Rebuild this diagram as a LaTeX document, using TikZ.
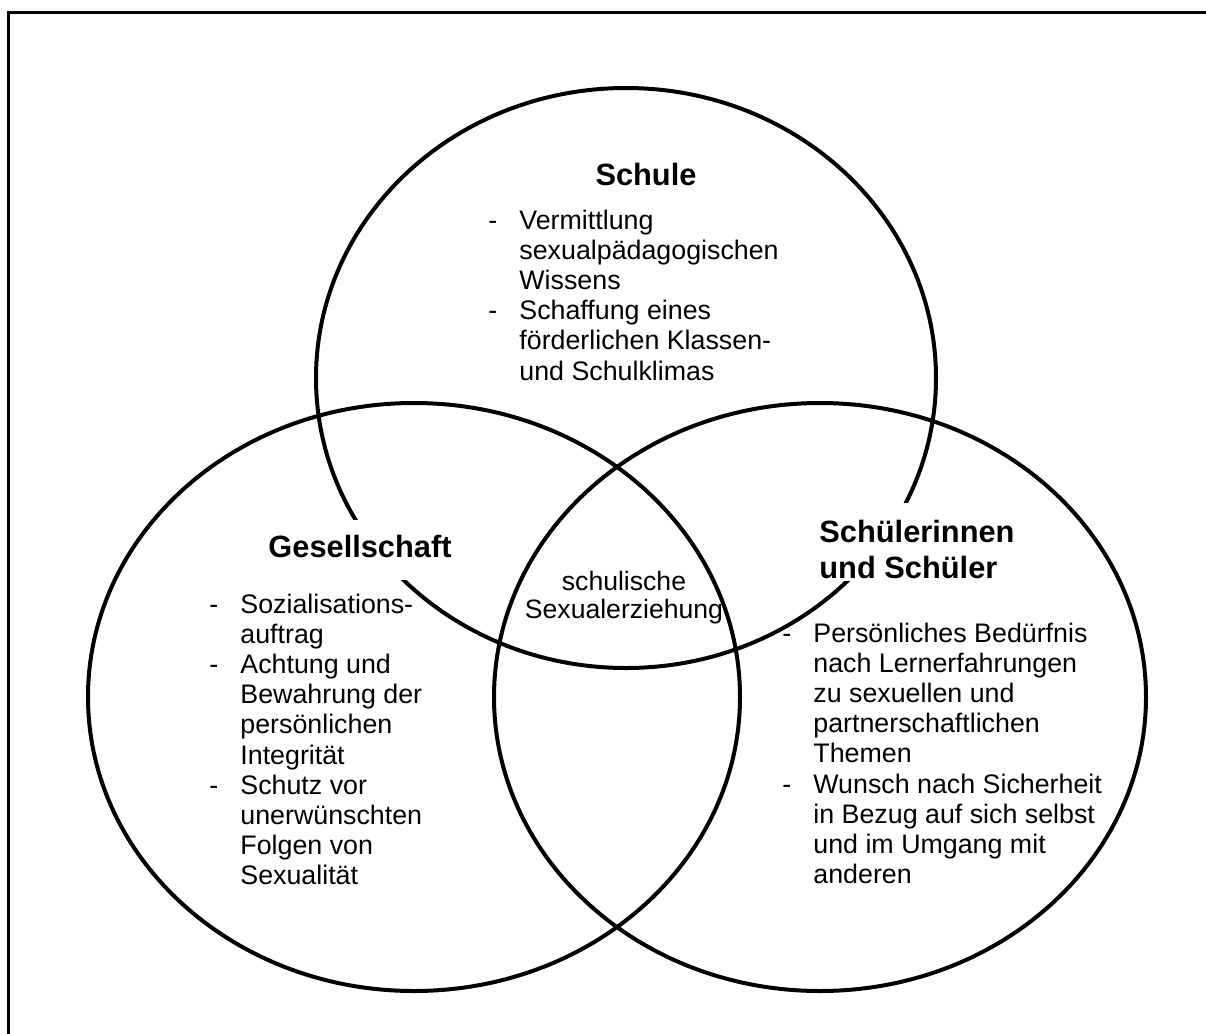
\documentclass[tikz,border=0pt]{standalone}
\usepackage{fontspec}
\setmainfont{Liberation Sans}
\newcommand{\bodyfont}{\fontsize{13.4}{15.1}\selectfont}
\newcommand{\headfont}{\fontsize{15.4}{18}\selectfont\bfseries}
\newcommand{\dashlist}[1]{\begin{tabular}[t]{@{}p{15.5pt}@{}l@{}}#1\end{tabular}}
\begin{document}
\begin{tikzpicture}[x=0.5pt, y=-0.5pt,
		ring/.style={line width=2pt},
		head/.style={inner sep=0pt, font=\headfont},
		headbox/.style={head, fill=white, inner xsep=7pt},
		item/.style={inner sep=0pt, font=\bodyfont, anchor=base west}]
	\useasboundingbox (0,0) rectangle (1206,1034);
	% frame, only top and left edge visible
	\draw[line width=1.5pt] (8.5,1040) |- (1212,12.5);
	% the three circles
	\foreach \cx/\cy/\rx/\ry in {626/378/155/145, 414/697/163/147, 820/697/163/147}
		{
			\draw[ring] (\cx,\cy) ellipse [x radius=\rx pt, y radius=\ry pt];
		}
	% headings (white boxes cover the circle lines)
	\node[head, anchor=base] (schule) at (646,185) {Schule};
	\node[headbox, anchor=base, text height=18.5pt, text depth=11.5pt] (gesell) at (360,557) {Gesellschaft};
	\node[headbox, anchor=base west, text height=19.5pt, text depth=19.5pt] (schueler) at (805,542)
		{\begin{tabular}[t]{@{}l@{}}Schülerinnen\\ und Schüler\end{tabular}};
	% lists
	\node[item] (schuleliste) at (488,229) {\dashlist{
			- & Vermittlung\\
			  & sexualpädagogischen\\
			  & Wissens\\
			- & Schaffung eines\\
			  & förderlichen Klassen-\\
			  & und Schulklimas}};
	\node[item] (gesellliste) at (209,613) {\dashlist{
			- & Sozialisations-\\
			  & auftrag\\
			- & Achtung und\\
			  & Bewahrung der\\
			  & persönlichen\\
			  & Integrität\\
			- & Schutz vor\\
			  & unerwünschten\\
			  & Folgen von\\
			  & Sexualität}};
	\node[item] (schuelerliste) at (782,642) {\dashlist{
			- & Persönliches Bedürfnis\\
			  & nach Lernerfahrungen\\
			  & zu sexuellen und\\
			  & partnerschaftlichen\\
			  & Themen\\
			- & Wunsch nach Sicherheit\\
			  & in Bezug auf sich selbst\\
			  & und im Umgang mit\\
			  & anderen}};
	% overlap of all three
	\node[inner sep=0pt, anchor=base, font=\fontsize{13.3}{14}\selectfont] (mitte) at (624,590)
		{\begin{tabular}[t]{@{}c@{}}schulische\\ Sexualerziehung\end{tabular}};
\end{tikzpicture}
\end{document}
